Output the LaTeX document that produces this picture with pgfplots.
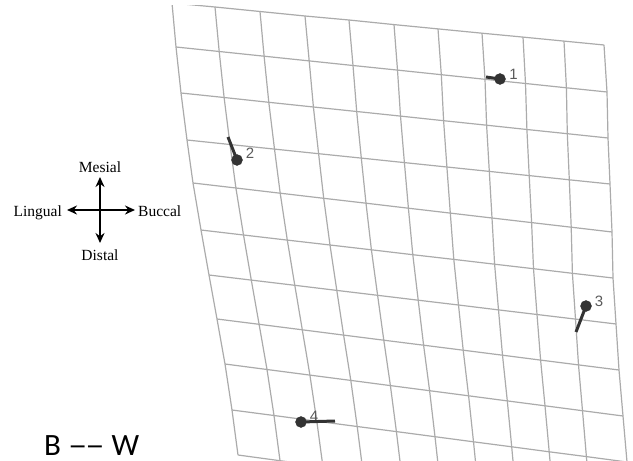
\documentclass[border=0pt]{standalone}
\usepackage{pgfplots}
\pgfplotsset{compat=1.18}
\usepackage{pgfplotstable}
\usepackage{fontspec}
\usepackage{graphicx}
\setmainfont{Liberation Serif}
\newfontfamily\labelfont{Liberation Sans}
\newfontfamily\titlefont{Carlito}
\usetikzlibrary{arrows.meta}

\definecolor{gridc}{HTML}{ABABAB}
\definecolor{lmk}{HTML}{333333}
\definecolor{lbl}{HTML}{5A5A5A}

% deformed grid nodes, 11 per line: grid rows, top to bottom
\pgfplotstableread{
x y
172 3
215 7
260 11.5
305 16
349 20
394 24.6
438 28.9
482 33.2
523 37.1
564 41.1
604 45
176 47
219.2 51.5
264.1 56.2
309.2 60.9
353 65.5
397.5 70.1
441.3 74.7
485 79.3
525.5 83.5
566.4 87.8
607 92
181 93
224.1 97.5
268.8 102.3
313.4 107
356.7 111.5
400.5 116.1
443.6 120.7
486.6 125.2
526.9 129.5
567.3 133.7
608 138
187 140
230 144.5
274.5 149.1
318.6 153.7
361.3 158.1
404.4 162.6
446.9 167
489.3 171.4
529.2 175.6
569.3 179.8
610 184
193 183
235.9 188
280.2 193.2
323.7 198.3
366 203.2
408.4 208.2
450.3 213.1
492 218
531.6 222.6
571.2 227.2
612 232
201 230
243.5 235
287.3 240.1
330 245
371.4 249.8
412.8 254.7
453.8 259.4
494.6 264.2
533.5 268.7
572.4 273.3
613 278
209 275
251.3 280.1
294.8 285.3
336.8 290.4
377.6 295.3
418.2 300.2
458.5 305
498.5 309.9
537 314.5
575.5 319.1
616 324
217 319
259.1 324.3
302.3 329.8
343.6 335.1
383.8 340.2
423.6 345.2
463.2 350.2
502.5 355.2
540.6 360.1
578.5 364.9
619 370
225 364
267 369.5
309.9 375.1
350.8 380.4
390.4 385.6
429.6 390.7
468.6 395.8
507.3 400.9
545 405.8
582.5 410.7
623 416
232 410
274 415.5
316.8 421.2
357.2 426.5
396.4 431.6
435 436.7
473.5 441.8
511.7 446.8
549.2 451.8
586.4 456.6
627 462
238 455
280 460.7
322.9 466.4
363 471.9
401.9 477.1
440 482.2
478.1 487.4
515.9 492.5
553.2 497.5
590.1 502.5
631 508
}\gridrows

% the same nodes, 11 per line: grid columns, left to right
\pgfplotstableread{
x y
172 3
176 47
181 93
187 140
193 183
201 230
209 275
217 319
225 364
232 410
238 455
215 7
219.2 51.5
224.1 97.5
230 144.5
235.9 188
243.5 235
251.3 280.1
259.1 324.3
267 369.5
274 415.5
280 460.7
260 11.5
264.1 56.2
268.8 102.3
274.5 149.1
280.2 193.2
287.3 240.1
294.8 285.3
302.3 329.8
309.9 375.1
316.8 421.2
322.9 466.4
305 16
309.2 60.9
313.4 107
318.6 153.7
323.7 198.3
330 245
336.8 290.4
343.6 335.1
350.8 380.4
357.2 426.5
363 471.9
349 20
353 65.5
356.7 111.5
361.3 158.1
366 203.2
371.4 249.8
377.6 295.3
383.8 340.2
390.4 385.6
396.4 431.6
401.9 477.1
394 24.6
397.5 70.1
400.5 116.1
404.4 162.6
408.4 208.2
412.8 254.7
418.2 300.2
423.6 345.2
429.6 390.7
435 436.7
440 482.2
438 28.9
441.3 74.7
443.6 120.7
446.9 167
450.3 213.1
453.8 259.4
458.5 305
463.2 350.2
468.6 395.8
473.5 441.8
478.1 487.4
482 33.2
485 79.3
486.6 125.2
489.3 171.4
492 218
494.6 264.2
498.5 309.9
502.5 355.2
507.3 400.9
511.7 446.8
515.9 492.5
523 37.1
525.5 83.5
526.9 129.5
529.2 175.6
531.6 222.6
533.5 268.7
537 314.5
540.6 360.1
545 405.8
549.2 451.8
553.2 497.5
564 41.1
566.4 87.8
567.3 133.7
569.3 179.8
571.2 227.2
572.4 273.3
575.5 319.1
578.5 364.9
582.5 410.7
586.4 456.6
590.1 502.5
604 45
607 92
608 138
610 184
612 232
613 278
616 324
619 370
623 416
627 462
631 508
}\gridcols

\begin{document}
\begin{tikzpicture}
\begin{axis}[
  scale only axis,
  width=633bp, height=455bp,
  xmin=0, xmax=633, ymin=6, ymax=461,
  y dir=reverse,
  hide axis,
  clip mode=individual,
  unbounded coords=discard,
]
% grid: one polyline per block of 11 nodes
\pgfplotsinvokeforeach{0,...,10}{
  \addplot[gridc, line width=1.2bp]
    table[x=x, y=y, restrict expr to domain={floor(\coordindex/11)-#1}{-0.2:0.2}] {\gridrows};
  \addplot[gridc, line width=1.2bp]
    table[x=x, y=y, restrict expr to domain={floor(\coordindex/11)-#1}{-0.2:0.2}] {\gridcols};
}

% landmark numbers
\begin{scope}[font=\labelfont\fontsize{15bp}{15bp}\selectfont, text=lbl, inner sep=0pt]
\node at (axis cs:513.5,74) {1};
\node at (axis cs:250,153.5) {2};
\node at (axis cs:599,301) {3};
\node at (axis cs:314,416) {4};
\end{scope}

% displacement vectors
\addplot[lmk, line width=3bp] coordinates {(500,79) (486,77)};
\addplot[lmk, line width=3bp] coordinates {(237,160) (228,137)};
\addplot[lmk, line width=3bp] coordinates {(586,306) (576,332)};
\addplot[lmk, line width=3bp] coordinates {(301,422) (335,421)};

% landmarks
\addplot[only marks, mark=*, mark size=5.5bp, lmk, mark options={draw=lmk, fill=lmk}]
  coordinates {(500,79) (237,160) (586,306) (301,422)};

% orientation compass
\draw[line width=2.4bp, {Stealth[length=10bp,width=9bp]}-{Stealth[length=10bp,width=9bp]}]
  (axis cs:100,243) -- (axis cs:100,177);
\draw[line width=2.4bp, {Stealth[length=10bp,width=9bp]}-{Stealth[length=10bp,width=9bp]}]
  (axis cs:67,210) -- (axis cs:135,210);
\begin{scope}[font=\fontsize{15.5bp}{18bp}\selectfont, inner sep=0pt]
\node[anchor=base] at (axis cs:100,172) {Mesial};
\node[anchor=base] at (axis cs:100,260) {Distal};
\node[anchor=base east] at (axis cs:62,216) {Lingual};
\node[anchor=base west] at (axis cs:138,216) {Buccal};
\end{scope}

% title
\node[anchor=base west, inner sep=0pt, font=\titlefont\fontsize{31bp}{31bp}\selectfont]
  at (axis cs:44,455) {B\ \scalebox{1.25}[1]{\textendash}\kern-2bp\scalebox{1.25}[1]{\textendash}\ W};
\end{axis}
\pgfresetboundingbox
\path (current axis.south west) rectangle ([yshift=6bp]current axis.north east);
\end{tikzpicture}
\end{document}
